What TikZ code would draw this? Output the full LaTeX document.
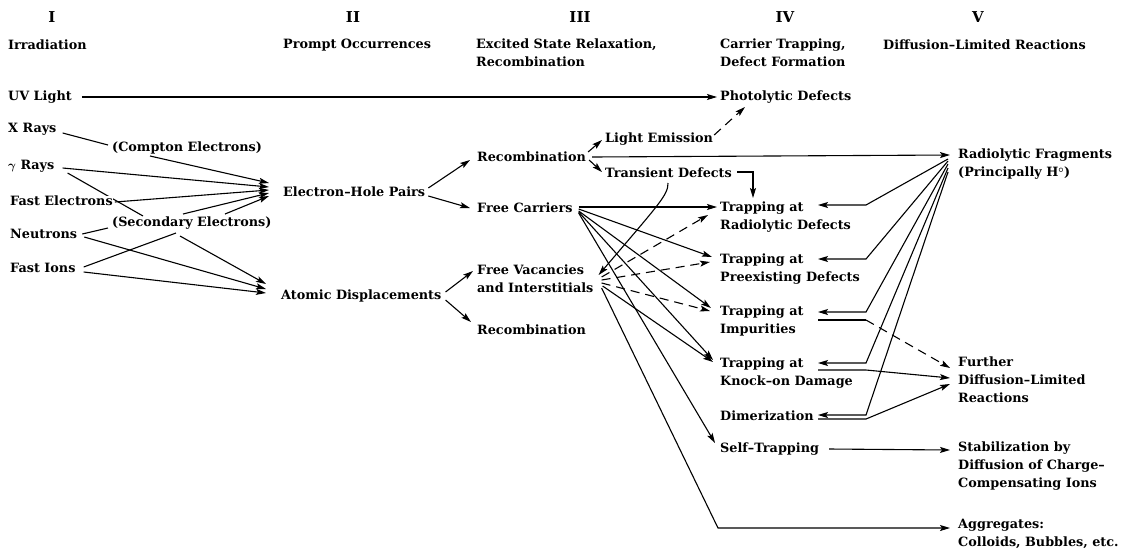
\documentclass[tikz,border=0pt]{standalone}
\usepackage{fontspec}
\setmainfont{DejaVu Serif}
\usetikzlibrary{arrows.meta,calc}
\pgfdeclarelayer{bg}
\pgfsetlayers{bg,main}
\newcommand{\lblfont}{\fontsize{12.8}{18}\selectfont\bfseries\boldmath}
\begin{document}
\begin{tikzpicture}[x=1pt,y=-1pt,
  lbl/.style={inner sep=0pt, anchor=west, font=\lblfont, align=left},
  hdnum/.style={inner sep=0pt, font=\fontsize{15}{16}\selectfont\bfseries},
  conn/.style={line width=1.1pt},
  arr/.style={conn, -{Stealth[length=10pt,width=6pt,inset=2pt]}},
  dsh/.style={dash pattern=on 9pt off 6pt}
]
\useasboundingbox (0,0) rectangle (1122,550);
% headers
\node[hdnum] (n1) at (52,17) {I};
\node[hdnum] (n2) at (353,17) {II};
\node[hdnum] (n3) at (580,17) {III};
\node[hdnum] (n4) at (785,17) {IV};
\node[hdnum] (n5) at (978,17) {V};
\node[lbl] (h1) at (8,45) {Irradiation};
\node[lbl] (h2) at (283,45) {Prompt Occurrences};
\node[lbl] (h3) at (476,53) {Excited State Relaxation,\\Recombination};
\node[lbl] (h4) at (720,53) {Carrier Trapping,\\Defect Formation};
\node[lbl] (h5) at (883,45) {Diffusion--Limited Reactions};
% column I
\node[lbl] (uv) at (8,97) {UV Light};
\node[lbl] (xr) at (8,129) {X Rays};
\node[lbl] (ce) at (112,148) {(Compton Electrons)};
\node[lbl] (gr) at (8,166) {$\gamma$ Rays};
\node[lbl,fill=white] (fe) at (10,201) {Fast Electrons};
\node[lbl] (se) at (112,223) {(Secondary Electrons)};
\node[lbl] (ne) at (10,234) {Neutrons};
\node[lbl] (fi) at (10,268) {Fast Ions};
% column II
\node[lbl] (eh) at (283,192) {Electron--Hole Pairs};
\node[lbl] (ad) at (281,296) {Atomic Displacements};
% column III
\node[lbl] (rc1) at (477,157) {Recombination};
\node[lbl] (le) at (605,139) {Light Emission};
\node[lbl] (td) at (605,173) {Transient Defects};
\node[lbl] (fc) at (477,208) {Free Carriers};
\node[lbl] (fv) at (477,279) {Free Vacancies\\and Interstitials};
\node[lbl] (rc2) at (477,330) {Recombination};
% column IV
\node[lbl] (pd) at (720,97) {Photolytic Defects};
\node[lbl] (trd) at (720,217) {Trapping at\\Radiolytic Defects};
\node[lbl] (tpd) at (720,269) {Trapping at\\Preexisting Defects};
\node[lbl] (tim) at (720,321) {Trapping at\\Impurities};
\node[lbl] (tko) at (720,373) {Trapping at\\Knock--on Damage};
\node[lbl] (dim) at (720,416) {Dimerization};
\node[lbl] (st) at (720,449) {Self--Trapping};
% column V
\node[lbl] (rf) at (958,164) {Radiolytic Fragments\\(Principally H$^{\circ}$)};
\node[lbl] (fd) at (958,380) {Further\\Diffusion--Limited\\Reactions};
\node[lbl] (sb) at (958,466) {Stabilization by\\Diffusion of Charge--\\Compensating Ions};
\node[lbl] (ag) at (958,534) {Aggregates:\\Colloids, Bubbles, etc.};

\begin{pgfonlayer}{bg}
% I -> II
\draw[arr] ($(uv.east)+(10,0)$) -- ($(pd.west)+(-3,0)$);
\draw[conn] ($(xr.east)+(6,4)$) -- ($(ce.west)+(-4,-3)$);
\draw[arr] ($(ce.west)+(38,8)$) -- ($(eh.west)+(-14,-9)$);
\draw[arr] ($(gr.east)+(8,2)$) -- ($(eh.west)+(-14,-5)$);
\draw[conn] ($(gr.east)+(13,7)$) -- ($(se.west)+(31,-7)$);
\draw[arr] ($(fe.east)+(2,1)$) -- ($(eh.west)+(-14,-2)$);
\draw[arr] ($(se.west)+(71,-9)$) -- ($(eh.west)+(-14,1)$);
\draw[arr] ($(se.west)+(113,-9)$) -- ($(eh.west)+(-14,4)$);
\draw[conn] ($(ne.east)+(5,0)$) -- ($(se.west)+(-4,5)$);
\draw[arr] ($(ne.east)+(7,3)$) -- ($(ad.west)+(-15,-7)$);
\draw[conn] ($(fi.east)+(8,-1)$) -- ($(se.west)+(64,10)$);
\draw[arr] ($(fi.east)+(8,4)$) -- ($(ad.west)+(-15,-3)$);
\draw[arr] ($(se.west)+(68,13)$) -- ($(ad.west)+(-15,-12)$);
% II -> III
\draw[arr] ($(eh.east)+(3,-4)$) -- ($(rc1.west)+(-7,3)$);
\draw[arr] ($(eh.east)+(3,4)$) -- ($(fc.west)+(-7,0)$);
\draw[arr] ($(ad.east)+(4,-4)$) -- ($(fv.west)+(-4,-8)$);
\draw[arr] ($(ad.east)+(4,4)$) -- ($(rc2.west)+(-6,-8)$);
% III
\draw[arr] ($(rc1.east)+(2,-5)$) -- ($(le.west)+(-3,1)$);
\draw[arr] ($(rc1.east)+(3,3)$) -- ($(td.west)+(-3,-1)$);
\draw[arr] ($(rc1.east)+(6,0)$) -- ($(rf.west)+(-8,-9)$);
\draw[arr,dsh] ($(le.east)+(1,-4)$) -- ($(pd.west)+(25,10)$);
\draw[arr] ($(td.east)+(5,-1)$) -| ($(trd.west)+(33,-19)$);
\draw[arr] ($(td.west)+(63,10)$) .. controls ($(td.west)+(63,22)$) and ($(td.west)+(55,30)$) .. ($(fv.east)+(5,-4)$);
% Free carriers fan
\draw[arr] ($(fc.east)+(6,-1)$) -- ($(trd.west)+(-3,-10)$);
\draw[arr] ($(fc.east)+(6,1)$) -- ($(tpd.west)+(-8,-12)$);
\draw[arr] ($(fc.east)+(6,3)$) -- ($(tim.west)+(-9,-13)$);
\draw[arr] ($(fc.east)+(6,4)$) -- ($(tko.west)+(-7,-13)$);
\draw[arr] ($(fc.east)+(6,5)$) -- ($(st.west)+(-5,-6)$);
% Free vacancies fan
\draw[arr,dsh] ($(fv.east)+(8,-2)$) -- ($(trd.west)+(-12,-2)$);
\draw[arr,dsh] ($(fv.east)+(8,1)$) -- ($(tpd.west)+(-10,-7)$);
\draw[arr,dsh] ($(fv.east)+(8,4)$) -- ($(tim.west)+(-10,-10)$);
\draw[arr] ($(fv.east)+(9,7)$) -- ($(tko.west)+(-7,-11)$);
\draw[arr] ($(fv.east)+(8,9)$) -- ($(ag.west)+(-240,-6)$) -- ($(ag.west)+(-8,-6)$);
% Radiolytic fragments back to IV
\draw[arr] ($(rf.west)+(-10,-5)$) -- ($(trd.west)+(146,-12)$) -- ($(trd.west)+(98,-12)$);
\draw[arr] ($(rf.west)+(-10,-3)$) -- ($(tpd.west)+(146,-10)$) -- ($(tpd.west)+(98,-10)$);
\draw[arr] ($(rf.west)+(-10,0)$) -- ($(tim.west)+(146,-9)$) -- ($(tim.west)+(98,-9)$);
\draw[arr] ($(rf.west)+(-10,4)$) -- ($(tko.west)+(146,-10)$) -- ($(tko.west)+(98,-10)$);
\draw[arr] ($(rf.west)+(-10,8)$) -- ($(dim.west)+(146,-1)$) -- ($(dim.west)+(98,-1)$);
% into further reactions
\draw[conn] ($(tim.west)+(98,-1)$) -- ($(tim.west)+(146,-1)$) coordinate (timc);
\draw[arr,dsh] (timc) -- ($(fd.west)+(-8,-12)$);
\draw[arr] ($(tko.west)+(98,-3)$) -- ($(tko.west)+(146,-3)$) -- ($(fd.west)+(-8,-2)$);
\draw[arr] ($(dim.west)+(98,3)$) -- ($(dim.west)+(146,3)$) -- ($(fd.west)+(-8,4)$);
\draw[arr] ($(st.east)+(10,0)$) -- ($(sb.west)+(-8,-16)$);
\end{pgfonlayer}
\end{tikzpicture}
\end{document}
